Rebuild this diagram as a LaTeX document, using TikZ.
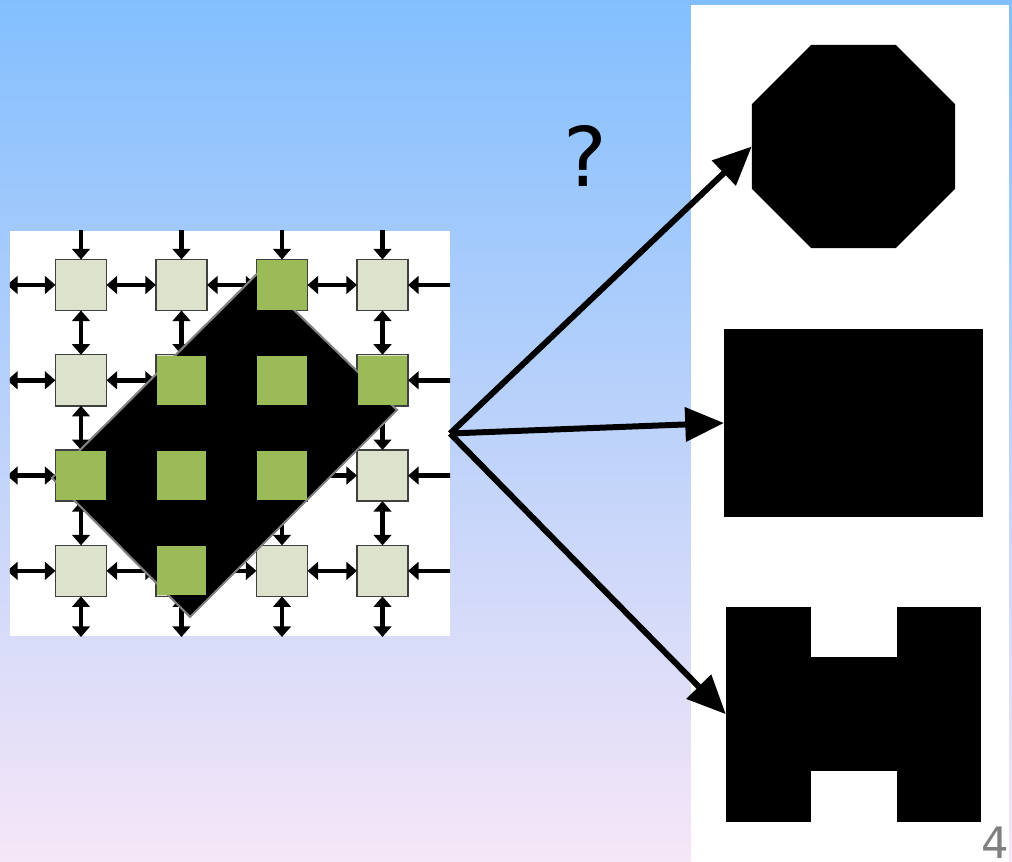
\documentclass[tikz,border=0pt]{standalone}
\usepackage{fontspec}
\setmainfont{DejaVu Sans}
\usetikzlibrary{arrows.meta, shapes.geometric}

\definecolor{skytop}{RGB}{131,191,254}
\definecolor{skybottom}{RGB}{246,230,247}
\definecolor{pefill}{RGB}{221,226,204}
\definecolor{peactive}{RGB}{155,187,89}
\definecolor{peborder}{RGB}{64,64,64}

\begin{document}
\begin{tikzpicture}[
		x=0.01cm, y=-0.01cm,
		pe/.style={draw=peborder, line width=0.4pt, fill=pefill, minimum size=0.51cm, inner sep=0pt, outer sep=0pt},
		busy/.style={fill=peactive, minimum size=0.49cm, inner sep=0pt, outer sep=0pt},
		link/.style={{Triangle[length=3pt,width=5pt]}-{Triangle[length=3pt,width=5pt]}, line width=1.3pt},
		inlink/.style={-{Triangle[length=3pt,width=5pt]}, line width=1.3pt},
		blob/.style={fill=black, inner sep=0pt, outer sep=0pt},
		arrow/.style={-{Triangle[length=11pt,width=9.5pt]}, line width=1.7pt}
		]
		
		\useasboundingbox (0,0) rectangle (1012,862);
		\shade[top color=skytop, bottom color=skybottom] (0,0) rectangle (1012,862);
		\fill[white] (691,5) rectangle (1009,870);
		
		% Mesh of processing elements
		\node[fill=white, minimum width=4.4cm, minimum height=4.05cm, inner sep=0pt, outer sep=0pt] (mesh) at (230,433.5) {};
		\foreach \r in {1,...,4}
			\foreach \c in {1,...,4}
				\node[pe] (pe\r\c) at ({81+100.5*(\c-1)}, {285+95.3*(\r-1)}) {};
		
		% Links, cut off at the border of the mesh
		\begin{scope}
			\clip (mesh.north west) rectangle (mesh.south east);
			\foreach \r in {1,...,4} {
				\coordinate (west\r) at (7, {285+95.3*(\r-1)});
				\coordinate (east\r) at (452, {285+95.3*(\r-1)});
				\draw[link] (west\r) -- (pe\r1);
				\draw[inlink] (east\r) -- (pe\r4);
				\foreach \c [evaluate=\c as \nx using int(\c+1)] in {1,2,3}
					\draw[link] (pe\r\c) -- (pe\r\nx);
			}
			\foreach \c in {1,...,4} {
				\coordinate (north\c) at ({81+100.5*(\c-1)}, 229);
				\coordinate (south\c) at ({81+100.5*(\c-1)}, 637);
				\draw[inlink] (north\c) -- (pe1\c);
				\draw[link] (pe4\c) -- (south\c);
				\foreach \r [evaluate=\r as \nx using int(\r+1)] in {1,2,3}
					\draw[link] (pe\r\c) -- (pe\nx\c);
			}
		\end{scope}
		
		% Tilted block laid over the mesh
		\filldraw[fill=black, draw=gray, line width=0.6pt] (257,274) -- (397,410) -- (190,617) -- (52,478) -- cycle;
		\foreach \r/\c in {1/3, 2/2, 2/3, 2/4, 3/1, 3/2, 3/3, 4/2}
			\node[busy] (busy\r\c) at (pe\r\c) {};
		
		% Candidate shapes
		\node[blob, regular polygon, regular polygon sides=8, minimum size=2.2cm] (oct) at (853.5,146.5) {};
		\node[blob, minimum width=2.59cm, minimum height=1.88cm] (rect) at (853.5,423) {};
		\node[blob, minimum width=2.55cm, minimum height=2.15cm] (hshape) at (853.4,714.2) {};
		\fill[white] (810.7,605) rectangle (896.7,657.3);
		\fill[white] (810.7,770.7) rectangle (896.7,824);
		
		% Arrows
		\draw[arrow] (mesh.east) -- (oct.west);
		\draw[arrow] (mesh.east) -- (rect.west);
		\draw[arrow] (mesh.east) -- (hshape.west);
		
		\node[font=\fontsize{23.4}{28}\selectfont, anchor=base, inner sep=0pt] (query) at (585,187) {?};
		\node[text=gray, font=\fontsize{12.3}{15}\selectfont, anchor=base east, inner sep=0pt] (pagenum) at (1010,859) {4};
		
	\end{tikzpicture}
\end{document}
